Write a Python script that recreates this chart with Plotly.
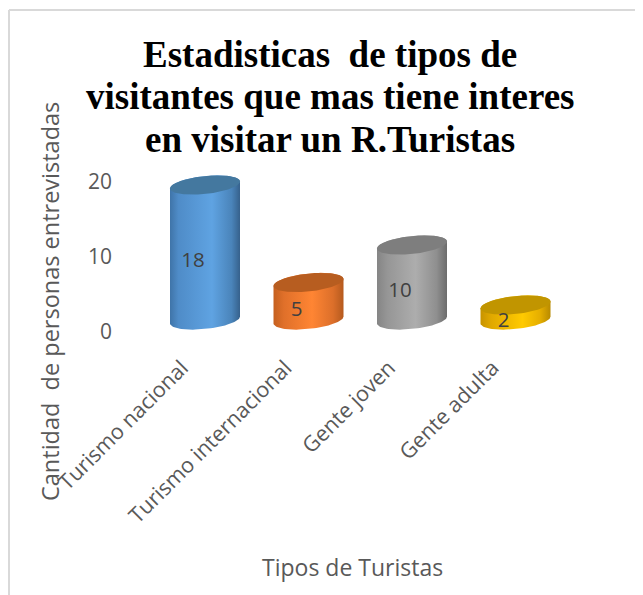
import numpy as np
import plotly.graph_objects as go

categories = ["Turismo nacional", "Turismo internacional", "Gente joven", "Gente adulta"]
values = [18, 5, 10, 2]
y_ticks = [0, 10, 20]
title_lines = ["Estadisticas  de tipos de", "visitantes que mas tiene interes", "en visitar un R.Turistas"]
y_title = "Cantidad  de personas entrevistadas"
x_title = "Tipos de Turistas"

side_scales = [
    [[0, "#3f74a8"], [0.12, "#4f8cc8"], [0.6, "#5fa3e2"], [0.88, "#4a84ba"], [1, "#36618c"]],
    [[0, "#c5601f"], [0.15, "#e0702a"], [0.55, "#ff8533"], [0.85, "#dc6f2a"], [1, "#b55a1e"]],
    [[0, "#858585"], [0.15, "#969696"], [0.55, "#adadad"], [0.85, "#8f8f8f"], [1, "#6c6c6c"]],
    [[0, "#c79300"], [0.15, "#e0a800"], [0.6, "#ffca00"], [0.85, "#e5ae00"], [1, "#b88a00"]],
]
top_colors = ["#44789f", "#b75d20", "#7e7e7e", "#c19500"]
bar_colors = ["#5b9bd5", "#ed7d31", "#a5a5a5", "#ffc000"]

OFF = 8               # the page adds 8 px around the figure
W, H = 643 - OFF, 595 - OFF
X0, X1 = 150 - OFF, 575 - OFF     # plot area, px within the figure
Y_ZERO, Y_TOP = 332 - OFF, 167 - OFF
PX_PER_CAT = 103.5
CAT0_PX = 205 - OFF
PX_PER_UNIT = 7.5
BASE = 1.6            # the cylinders float above the zero line
A = 35 / PX_PER_CAT   # ellipse half width
B = 9 / PX_PER_UNIT   # ellipse half height
TILT = 3.5 / PX_PER_UNIT


def arc(cx, cy, t):
    return cx + A * np.cos(t), cy + TILT * np.cos(t) + B * np.sin(t)


fig = go.Figure()
xs = list(range(len(categories)))

fig.add_trace(go.Bar(
    x=xs, y=values, base=BASE, width=2 * A * 0.9,
    marker=dict(color=bar_colors, line_width=0), hoverinfo="skip", showlegend=False,
))

upper = np.linspace(np.pi, 0, 50)
lower = np.linspace(0, -np.pi, 50)
full = np.linspace(0, 2 * np.pi, 100)
for i, v in enumerate(values):
    top = BASE + v
    x1, y1 = arc(i, top, upper)
    x2, y2 = arc(i, BASE, lower)
    fig.add_trace(go.Scatter(
        x=np.r_[x1, x2, x1[0]], y=np.r_[y1, y2, y1[0]], mode="lines", fill="toself",
        line=dict(width=0), fillgradient=dict(type="horizontal", colorscale=side_scales[i]),
        hoverinfo="skip", showlegend=False,
    ))
    tx, ty = arc(i, top, full)
    fig.add_trace(go.Scatter(
        x=tx, y=ty, mode="lines", fill="toself", line=dict(width=0),
        fillcolor=top_colors[i], hoverinfo="skip", showlegend=False,
    ))

fig.add_trace(go.Scatter(
    x=[i - 0.115 for i in xs], y=[v / 2 + 0.35 for v in values], mode="text",
    text=[str(v) for v in values], textposition="middle center",
    textfont=dict(family="Open Sans", size=20.5, color="#404040"),
    hoverinfo="skip", showlegend=False,
))

annotations = []
for line, py in zip(title_lines, [55, 96, 140]):
    annotations.append(dict(
        text=f"<b>{line}</b>", xref="paper", yref="paper", x=(330 - OFF) / W, y=1 - (py - OFF) / H,
        xanchor="center", yanchor="middle", showarrow=False,
        font=dict(family="Liberation Serif", size=37, color="#000000"),
    ))
annotations.append(dict(
    text=y_title, xref="paper", yref="paper", x=(50 - OFF) / W, y=1 - (302 - OFF) / H, textangle=-90,
    xanchor="center", yanchor="middle", showarrow=False,
    font=dict(family="Open Sans", size=23.5, color="#595959"),
))
annotations.append(dict(
    text=x_title, xref="paper", yref="paper", x=(352 - OFF) / W, y=1 - (567 - OFF) / H,
    xanchor="center", yanchor="middle", showarrow=False,
    font=dict(family="Open Sans", size=23, color="#595959"),
))

fig.update_layout(
    width=W, height=H, autosize=False, margin=dict(l=0, r=0, t=0, b=0),
    paper_bgcolor="white", plot_bgcolor="white", showlegend=False,
    annotations=annotations, hovermode=False,
    xaxis=dict(
        domain=[X0 / W, X1 / W],
        range=[(X0 - CAT0_PX) / PX_PER_CAT, (X1 - CAT0_PX) / PX_PER_CAT],
        tickmode="array", tickvals=xs, ticktext=categories, tickangle=-45,
        ticks="", showgrid=False, zeroline=False, showline=False, automargin=False,
        ticklabelshift=-23, ticklabelstandoff=18,
        tickfont=dict(family="Open Sans", size=21.5, color="#595959"),
    ),
    yaxis=dict(
        domain=[1 - Y_ZERO / H, 1 - Y_TOP / H],
        range=[0, (Y_ZERO - Y_TOP) / PX_PER_UNIT],
        tickmode="array", tickvals=y_ticks, ticks="", showgrid=False, zeroline=False,
        showline=False, automargin=False, ticklabelstandoff=37,
        tickfont=dict(family="Open Sans", size=21, color="#595959"),
    ),
    shapes=[
        dict(type="line", xref="paper", yref="paper", x0=1 / W, x1=1 / W, y0=0, y1=1 - 2 / H,
             line=dict(color="#d9d9d9", width=2)),
        dict(type="line", xref="paper", yref="paper", x0=1 / W, x1=1, y0=1 - 2 / H, y1=1 - 2 / H,
             line=dict(color="#d9d9d9", width=2)),
    ],
)

fig.write_html("out.html")
